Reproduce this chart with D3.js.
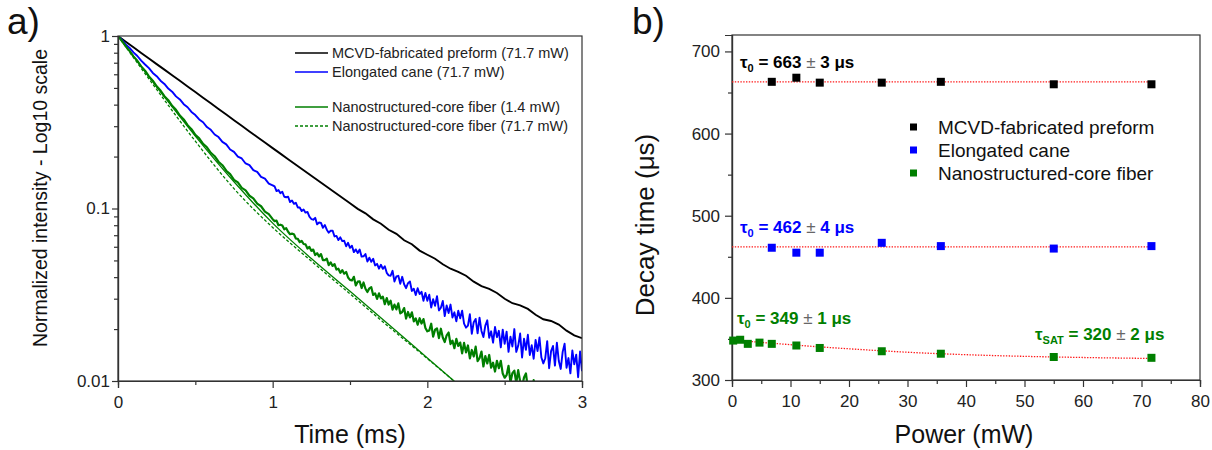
<!DOCTYPE html>
<html>
<head>
<meta charset="utf-8">
<script src="https://cdnjs.cloudflare.com/ajax/libs/d3/7.8.5/d3.min.js"></script>
<style>
  body { margin: 0; background: #fff; }
  svg { display: block; font-family: "Liberation Sans", Arial, sans-serif; }
  .axis path, .axis line { stroke: #333; stroke-width: 1.2; }
  .axis text { fill: #222; font-size: 17px; }
</style>
</head>
<body>
<svg id="chart" width="1212" height="450"></svg>
<script>
// ---- panel a) : decay curves, log10 of normalized intensity ----
var tStepBlack = 0.05;   // ms between samples, black trace
var headStep = 0.025;    // ms between samples, 0..1 ms of the noisy traces
var tailStep = 0.0125;   // ms between samples after 1 ms

var blackLog = [0.000,-0.033,-0.065,-0.098,-0.130,-0.163,-0.195,-0.228,-0.260,-0.293,
  -0.325,-0.358,-0.390,-0.423,-0.455,-0.488,-0.520,-0.553,-0.585,-0.618,
  -0.650,-0.682,-0.714,-0.746,-0.778,-0.810,-0.842,-0.874,-0.906,-0.938,
  -0.970,-1.002,-1.028,-1.063,-1.088,-1.123,-1.147,-1.184,-1.207,-1.244,
  -1.268,-1.291,-1.323,-1.349,-1.367,-1.390,-1.424,-1.450,-1.466,-1.490,
  -1.523,-1.549,-1.562,-1.582,-1.616,-1.642,-1.652,-1.673,-1.708,-1.735,-1.752];

var blueHead = [0.000,-0.023,-0.049,-0.069,-0.095,-0.116,-0.143,-0.165,-0.186,-0.214,
  -0.233,-0.259,-0.278,-0.305,-0.323,-0.350,-0.368,-0.395,-0.413,-0.440,
  -0.458,-0.484,-0.500,-0.528,-0.544,-0.571,-0.586,-0.614,-0.628,-0.658,
  -0.672,-0.699,-0.710,-0.739,-0.749,-0.778,-0.788,-0.817,-0.827,-0.856,-0.866];
var blueTail = [
  -0.872,-0.899,-0.893,-0.911,-0.903,-0.932,-0.935,-0.932,-0.963,-0.954,
  -0.973,-0.967,-0.994,-0.994,-1.015,-1.006,-1.024,-1.020,-1.047,-1.061,
  -1.065,-1.054,-1.092,-1.081,-1.083,-1.112,-1.096,-1.123,-1.140,-1.129,
  -1.128,-1.162,-1.159,-1.183,-1.167,-1.189,-1.187,-1.219,-1.199,-1.228,
  -1.216,-1.253,-1.237,-1.258,-1.238,-1.279,-1.277,-1.264,-1.308,-1.285,
  -1.309,-1.292,-1.330,-1.321,-1.349,-1.326,-1.350,-1.335,-1.373,-1.388,
  -1.390,-1.361,-1.423,-1.394,-1.390,-1.436,-1.396,-1.439,-1.462,-1.433,
  -1.423,-1.478,-1.465,-1.502,-1.462,-1.496,-1.483,-1.535,-1.489,-1.535,
  -1.500,-1.574,-1.526,-1.564,-1.508,-1.591,-1.575,-1.536,-1.624,-1.562,
  -1.606,-1.557,-1.632,-1.602,-1.654,-1.592,-1.636,-1.592,-1.667,-1.691,
  -1.679,-1.613,-1.726,-1.659,-1.640,-1.724,-1.633,-1.710,-1.745,-1.679,
  -1.648,-1.749,-1.712,-1.778,-1.687,-1.746,-1.709,-1.805,-1.702,-1.785,
  -1.714,-1.831,-1.743,-1.800,-1.699,-1.831,-1.796,-1.725,-1.864,-1.755,
  -1.819,-1.732,-1.849,-1.793,-1.871,-1.762,-1.827,-1.748,-1.864,-1.898,
  -1.868,-1.769,-1.926,-1.827,-1.797,-1.911,-1.778,-1.884,-1.930,-1.831,
  -1.784,-1.923,-1.867,-1.956,-1.823,-1.903,-1.847,-1.978,-1.829,-1.943];

var greenHead = [0.000,-0.028,-0.059,-0.086,-0.118,-0.144,-0.176,-0.201,-0.234,-0.259,
  -0.292,-0.316,-0.349,-0.372,-0.405,-0.428,-0.461,-0.484,-0.517,-0.540,
  -0.573,-0.593,-0.625,-0.645,-0.677,-0.697,-0.729,-0.749,-0.781,-0.801,
  -0.834,-0.849,-0.880,-0.895,-0.926,-0.941,-0.972,-0.987,-1.018,-1.033,-1.062];
var greenTail = [
  -1.073,-1.070,-1.097,-1.094,-1.099,-1.121,-1.114,-1.135,-1.149,-1.146,
  -1.149,-1.174,-1.176,-1.195,-1.188,-1.206,-1.208,-1.232,-1.223,-1.245,
  -1.238,-1.270,-1.259,-1.278,-1.264,-1.299,-1.299,-1.291,-1.328,-1.312,
  -1.333,-1.322,-1.354,-1.349,-1.373,-1.357,-1.378,-1.368,-1.400,-1.414,
  -1.417,-1.396,-1.446,-1.424,-1.422,-1.461,-1.429,-1.465,-1.484,-1.463,
  -1.456,-1.501,-1.492,-1.524,-1.492,-1.521,-1.511,-1.555,-1.519,-1.557,
  -1.534,-1.586,-1.557,-1.585,-1.550,-1.608,-1.600,-1.577,-1.638,-1.600,
  -1.631,-1.602,-1.654,-1.637,-1.674,-1.636,-1.667,-1.641,-1.693,-1.712,
  -1.707,-1.668,-1.743,-1.703,-1.695,-1.751,-1.697,-1.748,-1.774,-1.735,
  -1.719,-1.786,-1.766,-1.810,-1.756,-1.797,-1.777,-1.840,-1.779,-1.834,
  -1.794,-1.869,-1.820,-1.858,-1.801,-1.885,-1.868,-1.829,-1.916,-1.855,
  -1.898,-1.849,-1.923,-1.894,-1.945,-1.883,-1.926,-1.883,-1.957,-1.981,
  -1.966,-1.912,-2.008,-1.954,-1.940,-2.011,-1.937,-2.003,-2.034,-1.980,
  -1.956,-2.042,-2.013,-2.069,-1.995,-2.046,-2.017,-2.098,-2.014,-2.085];

// smooth green curves, knots every 0.25 ms
var fitTimes = [0, 0.25, 0.5, 0.75, 1.0, 1.25, 1.5, 1.75, 2.0, 2.25];
var greenFitLog = [0, -0.295, -0.58, -0.845, -1.085, -1.29, -1.48, -1.672, -1.866, -2.06];
var greenDashLog = [0, -0.31, -0.61, -0.885, -1.11, -1.305, -1.495, -1.685, -1.87, -2.06];

var legendA = ["MCVD-fabricated preform (71.7 mW)", "Elongated cane (71.7 mW)",
  "Nanostructured-core fiber (1.4 mW)", "Nanostructured-core fiber (71.7 mW)"];

// ---- panel b) : decay time vs pump power ----
var powerBW = [6.8, 11, 15, 25.6, 35.7, 55, 71.7];
var tauBlack = [663, 668, 662, 662, 663, 660, 660];
var tauBlue = [461, 455, 455, 467, 463, 460, 463];
var powerGreen = [0.2, 1.4, 2.7, 4.7, 6.8, 11, 15, 25.6, 35.7, 55, 71.7];
var tauGreen = [348, 349, 344, 345.5, 344, 342, 339, 335, 332, 328, 327];

var fitFlatX = [0, 72];
var fitBlack = [663, 663];
var fitBlue = [462, 462];
var fitGreenX = [0, 5, 10, 15, 20, 25, 30, 40, 50, 60, 72];
var fitGreen = [349, 345.8, 343, 340.3, 338, 335.8, 333.8, 330.8, 328.8, 327.4, 326.2];

var legendB = ["MCVD-fabricated preform", "Elongated cane", "Nanostructured-core fiber"];

var cBlack = "#000000", cBlue = "#0000ff", cGreen = "#007f00", cRed = "#ff1a1a";

var svg = d3.select("#chart");

// ================= panel a =================
var xa = d3.scaleLinear().domain([0, 3]).range([118, 582]);
var ya = d3.scaleLog().domain([0.01, 1]).range([381, 36]);

svg.append("defs").append("clipPath").attr("id", "clipA")
  .append("rect").attr("x", 118).attr("y", 36).attr("width", 464).attr("height", 345);

function toPts(arr, step, t0) {
  return arr.map(function (v, i) { return [t0 + i * step, Math.pow(10, v)]; });
}
function headTail(head, tail) {
  var t1 = (head.length - 1) * headStep;
  return toPts(head, headStep, 0).concat(toPts(tail, tailStep, t1 + tailStep));
}
function zipPts(xs, arr) {
  return xs.map(function (t, i) { return [t, Math.pow(10, arr[i])]; });
}
var lineA = d3.line().x(function (d) { return xa(d[0]); }).y(function (d) { return ya(d[1]); });

var gA = svg.append("g").attr("clip-path", "url(#clipA)");
gA.append("path").attr("d", lineA(toPts(blackLog, tStepBlack, 0)))
  .attr("fill", "none").attr("stroke", cBlack).attr("stroke-width", 1.9);
gA.append("path").attr("d", lineA(headTail(blueHead, blueTail)))
  .attr("fill", "none").attr("stroke", cBlue).attr("stroke-width", 1.9)
  .attr("stroke-linejoin", "round");
gA.append("path").attr("d", lineA(headTail(greenHead, greenTail)))
  .attr("fill", "none").attr("stroke", cGreen).attr("stroke-width", 2.2)
  .attr("stroke-linejoin", "round");
var lineCurve = d3.line().curve(d3.curveMonotoneX)
  .x(function (d) { return xa(d[0]); }).y(function (d) { return ya(d[1]); });
gA.append("path").attr("d", lineCurve(zipPts(fitTimes, greenFitLog)))
  .attr("fill", "none").attr("stroke", cGreen).attr("stroke-width", 1.3);
gA.append("path").attr("d", lineCurve(zipPts(fitTimes, greenDashLog)))
  .attr("fill", "none").attr("stroke", cGreen).attr("stroke-width", 1.3)
  .attr("stroke-dasharray", "3,2");

// axes a
var minorY = ya.ticks().filter(function (v) {
  var l = Math.log10(v); return Math.abs(l - Math.round(l)) > 1e-6;
});
svg.append("g").attr("class", "axis").attr("transform", "translate(118,0)")
  .call(d3.axisLeft(ya).tickValues(minorY).tickSize(4).tickFormat(""));
svg.append("g").attr("class", "axis").attr("transform", "translate(118,0)")
  .call(d3.axisLeft(ya).tickValues([0.01, 0.1, 1]).tickSize(6).tickPadding(2)
    .tickFormat(function (d) { return String(d); }));
svg.append("g").attr("class", "axis").attr("transform", "translate(0,381)")
  .call(d3.axisBottom(xa).tickValues([0.5, 1.5, 2.5]).tickSize(4).tickFormat(""));
svg.append("g").attr("class", "axis").attr("transform", "translate(0,381)")
  .call(d3.axisBottom(xa).tickValues([0, 1, 2, 3]).tickSize(7).tickPadding(8)
    .tickFormat(d3.format("d")));
svg.append("rect").attr("x", 118).attr("y", 36).attr("width", 464).attr("height", 345)
  .attr("fill", "none").attr("stroke", "#333").attr("stroke-width", 1.2);

// legend a
var legA = svg.append("g");
var legARows = [53, 72, 107, 126];
var legAStyle = [[cBlack, null], [cBlue, null], [cGreen, null], [cGreen, "3,2"]];
legendA.forEach(function (name, i) {
  legA.append("line").attr("x1", 295).attr("x2", 328)
    .attr("y1", legARows[i]).attr("y2", legARows[i])
    .attr("stroke", legAStyle[i][0]).attr("stroke-width", 1.6)
    .attr("stroke-dasharray", legAStyle[i][1]);
  legA.append("text").attr("x", 332).attr("y", legARows[i] + 5)
    .attr("font-size", 14.5).attr("fill", "#222").text(name);
});

// titles a
svg.append("text").attr("x", 350).attr("y", 443).attr("text-anchor", "middle")
  .attr("font-size", 25).attr("fill", "#111").text("Time (ms)");
svg.append("text").attr("transform", "translate(47,198) rotate(-90)")
  .attr("text-anchor", "middle").attr("font-size", 19.5).attr("fill", "#111")
  .text("Normalized intensity - Log10 scale");
svg.append("text").attr("x", 7).attr("y", 34).attr("font-size", 37).attr("fill", "#111").text("a)");

// ================= panel b =================
var xb = d3.scaleLinear().domain([0, 80]).range([732, 1200]);
var yb = d3.scaleLinear().domain([300, 720]).range([380, 35]);

svg.append("g").attr("class", "axis").attr("transform", "translate(732,0)")
  .call(d3.axisLeft(yb).tickValues([350, 450, 550, 650]).tickSize(4).tickFormat(""));
svg.append("g").attr("class", "axis").attr("transform", "translate(732,0)")
  .call(d3.axisLeft(yb).tickValues([300, 400, 500, 600, 700]).tickSize(7).tickPadding(5));
svg.append("g").attr("class", "axis").attr("transform", "translate(0,380)")
  .call(d3.axisBottom(xb).tickValues(d3.range(5, 80, 10)).tickSize(4).tickFormat(""));
svg.append("g").attr("class", "axis").attr("transform", "translate(0,380)")
  .call(d3.axisBottom(xb).tickValues(d3.range(0, 81, 10)).tickSize(7).tickPadding(8));
svg.append("rect").attr("x", 732).attr("y", 35).attr("width", 468).attr("height", 345)
  .attr("fill", "none").attr("stroke", "#333").attr("stroke-width", 1.2);

var lineB = d3.line().curve(d3.curveMonotoneX)
  .x(function (d) { return xb(d[0]); }).y(function (d) { return yb(d[1]); });
function pairs(xs, ys) { return xs.map(function (x, i) { return [x, ys[i]]; }); }

[[fitFlatX, fitBlack], [fitFlatX, fitBlue], [fitGreenX, fitGreen]].forEach(function (f) {
  svg.append("path").attr("d", lineB(pairs(f[0], f[1])))
    .attr("fill", "none").attr("stroke", cRed).attr("stroke-width", 1.3)
    .attr("stroke-dasharray", "1.4,1.4");
});

var sq = 8;
function squares(xs, ys, col) {
  svg.append("g").selectAll("rect").data(pairs(xs, ys)).enter().append("rect")
    .attr("x", function (d) { return xb(d[0]) - sq / 2; })
    .attr("y", function (d) { return yb(d[1]) - sq / 2; })
    .attr("width", sq).attr("height", sq).attr("fill", col);
}
squares(powerBW, tauBlack, cBlack);
squares(powerBW, tauBlue, cBlue);
squares(powerGreen, tauGreen, cGreen);

// legend b
var legBCol = [cBlack, cBlue, cGreen];
legendB.forEach(function (name, i) {
  var yy = 127 + i * 23;
  svg.append("rect").attr("x", 910).attr("y", yy - 3.5).attr("width", 7).attr("height", 7)
    .attr("fill", legBCol[i]);
  svg.append("text").attr("x", 938).attr("y", yy + 7).attr("font-size", 19)
    .attr("fill", "#111").text(name);
});

// annotations
function tauLabel(x, y, sub, value, err, col) {
  var t = svg.append("text").attr("x", x).attr("y", y).attr("font-size", 17)
    .attr("font-weight", "bold").attr("fill", col);
  t.append("tspan").text("τ");
  t.append("tspan").attr("font-size", 11).attr("dy", 4).text(sub);
  t.append("tspan").attr("dy", -4).text(" = " + value + " ");
  t.append("tspan").attr("font-weight", "normal").attr("fill", "#666").text("±");
  t.append("tspan").text(" " + err + " μs");
}
tauLabel(740, 68, "0", 663, 3, cBlack);
tauLabel(740, 233, "0", 462, 4, cBlue);
tauLabel(737, 324, "0", 349, 1, cGreen);
tauLabel(1035, 340, "SAT", 320, 2, cGreen);

// titles b
svg.append("text").attr("x", 964).attr("y", 443).attr("text-anchor", "middle")
  .attr("font-size", 25).attr("fill", "#111").text("Power (mW)");
svg.append("text").attr("transform", "translate(654,225) rotate(-90)")
  .attr("text-anchor", "middle").attr("font-size", 26).attr("fill", "#111")
  .text("Decay time (μs)");
svg.append("text").attr("x", 632).attr("y", 34).attr("font-size", 37).attr("fill", "#111").text("b)");
</script>
</body>
</html>
